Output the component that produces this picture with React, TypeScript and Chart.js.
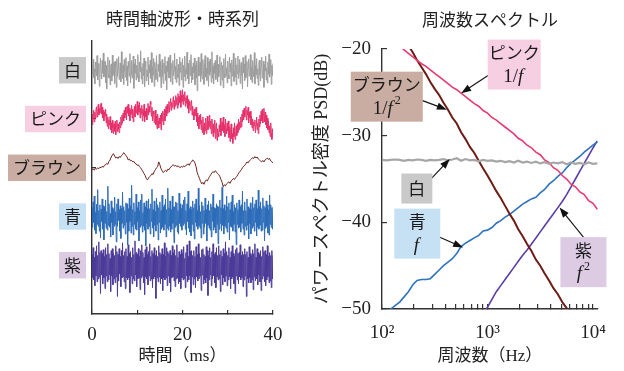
import React, { useEffect, useRef } from 'react';
import { Chart, registerables } from 'chart.js';

Chart.register(...registerables);

// ---------- Left panel: time-domain waveforms ----------
const DURATION_MS = 40;
const TIME_TICKS = [0, 10, 20, 30, 40];
const TIME_TICK_LABELS = ['0', '', '20', '', '40'];
const TRACE_NAMES = ['白', 'ピンク', 'ブラウン', '青', '紫'];
const TRACE_OFFSETS = [4, 3, 2, 1, 0];
const TRACE_COLORS = ['#9d9d9d', '#e6306b', '#70231d', '#2c6cb8', '#4c3b98'];
const BOX_COLORS = ['#c9c9c9', '#f7cfe2', '#c9ada2', '#c7e1f4', '#dccbe3'];

// amplitudes in hundredths of a trace spacing, evenly spaced over 0–40 ms
const WHITE_WAVE = [
  12, -8, 22, -15, 3, -28, 17, 9, -12, 30, -20, -4, 14, -33, 8, 25, -10, -18, 20, -6,
  35, -14, -2, 18, -25, 10, -38, 6, 27, -9, -16, 21, -30, 4, 13, -22, 31, -11, -3, 16,
  -27, 19, 7, -35, 24, -13, 2, 28, -19, -7, 15, -24, 38, -5, -17, 11, -29, 22, -1, -14,
  26, -21, 9, -32, 18, 5, -12, 34, -26, -8, 20, -16, 3, 29, -37, 13, -6, 23, -20, 10,
  -15, 32, -9, -24, 17, -3, 40, -18, 6, -28, 14, -11, 25, -34, 8, 19, -22, 1, -13, 27,
  -30, 11, -5, 21, -17, 36, -25, 7, -10, 24, -33, 16, 2, -19, 30, -8, -23, 12, -2, 33,
  -14, 18, -36, 4, 22, -12, -27, 15, -6, 28, -21, 9, -40, 19, -3, 26, -16, -9, 31, -24,
  5, 14, -29, 20, -11, -1, 35, -18, 8, -25, 23, -7, -15, 12, -31, 27, -4, 17, -20, 6,
  24, -35, 10, -13, 29, -22, 3, -8, 37, -17, 14, -28, -2, 21, -11, 32, -26, 7, -19, 15,
  -5, 25, -30, 11, -16, 19, -42, 8, 27, -12, -4, 16, -23, 34, -9, -18, 22, -1, -29, 13,
  30, -14, 4, -21, 26, -7, -33, 18, -10, 23, -3, -25, 38, -16, 9, -28, 15, -6, 20, -19,
  2, 31, -24, 12, -13, -2, 28, -31, 7, 17, -20, 10, -36, 24, -8, -15, 33, -11, 5, -26,
  19, -9, -18, 27, -4, 14, -32, 21, -12, 6, 35, -23, -1, -14, 25, -30, 11, -7, 29, -17,
  -3, 22, -27, 9, 16, -11, -38, 26, -5, 13, -21, 30, -15, -8, 18, -34, 4, 23, -12, -6,
  32, -19, 7, -25, 20, -2, -13, 36, -28, 10, -9, 24, -17, 3, -31, 15, 21, -10, -22, 8,
  27, -16, -6, 19, -35, 12, -1, 29, -20, 5, -26, 17, -8, 33, -14, -4, 22, -29, 10, -11,
  14,
];
const PINK_WAVE = [
  10, -12, 5, 18, -6, 14, 2, 20, 25, 4, 16, 30, 8, 22, 12, 28,
  32, 10, 24, 2, 18, -4, 14, 6, 20, -8, 10, -15, 4, -20, -2, -12,
  5, -22, -8, -28, -3, -18, -30, -10, -25, -5, -32, -14, -2, -26, -10, -20,
  -28, -6, -18, 4, -12, 8, -8, 12, -4, 18, 2, 24, 8, -2, 26, 12,
  30, 6, 22, -4, 18, 10, 28, 2, 20, -6, 14, 26, 4, 30, 12, 22,
  36, 8, 28, 14, 34, 2, 22, 10, 28, -4, 20, 6, 30, -6, 16, 4,
  22, -2, 18, 32, 8, 26, 14, 36, 30, 6, 24, -4, 16, 10, -8, 14,
  18, -12, 6, -20, 10, -4, -18, 2, -10, 8, -22, 12, -4, 16, -12, 10,
  20, -4, 14, 26, 6, 30, 12, 24, 36, 14, 28, 42, 18, 34, 24, 40,
  46, 20, 38, 26, 48, 30, 44, 22, 52, 28, 46, 34, 58, 24, 48, 36,
  60, 30, 50, 38, 56, 26, 44, 32, 48, 22, 40, 12, 36, 28, 18, 30,
  38, 8, 26, 14, -2, 20, 6, 16, 24, -6, 12, -14, 4, -20, 8, -10,
  10, -22, -2, -28, 4, -16, -32, -8, -24, 2, -30, -10, 6, -22, -4, -16,
  8, -20, -4, -30, 0, -14, -36, -10, -28, -2, -40, -16, -8, -44, -20, -30,
  -36, -12, -26, 2, -34, -18, -6, -24, 4, -28, -12, -36, 0, -20, -30, -8,
  -24, -4, -38, -16, -46, -22, -10, -40, -30, -50, -18, -36, -8, -42, -26, -14,
  -34, -10, -28, 0, -22, -6, -18, 4, -16, 10, -6, 18, -2, 22, 4, 14,
  26, -2, 18, 8, 24, -8, 14, 2, 16, -12, 6, -18, 0, -24, -6, -14,
  -2, -28, -12, 4, -22, -8, -30, 0, -16, 8, -10, 16, -4, 20, -8, 12,
  22, -6, 14, -12, 8, -18, 2, -22, -4, -28, -14, -36, -8, -30, -42, -20,
  -38,
];
const BROWN_WAVE = [
  -4, -2, -5, -1, -3, 0, -2, 1, 0, 3, 1, 5, 6, 9, 7, 13, 16, 22, 26, 29,
  24, 20, 22, 19, 23, 21, 25, 27, 31, 28, 25, 22, 16, 18, 14, 15, 12, 13, 9, 8,
  5, 6, 2, 0, -4, -8, -12, -16, -22, -25, -21, -18, -16, -12, -14, -8, -4, 0, 2, 12,
  6, -2, -6, -10, -7, -5, -8, -3, -4, 0, 2, 5, 6, 3, 5, 2, 4, 2, 0, 3,
  1, 4, 2, 5, 6, 8, 5, 10, 12, 16, 14, 10, 2, -10, -16, -22, -28, -33, -30, -34,
  -28, -25, -27, -22, -18, -14, -10, -8, -10, -6, -9, -12, -14, -18, -24, -30, -39, -35, -37, -33,
  -31, -29, -32, -27, -25, -22, -24, -20, -18, -14, -10, -7, -4, 0, 3, 5, 8, 12, 10, 14,
  16, 18, 21, 19, 23, 20, 22, 18, 16, 14, 12, 15, 12, 16, 18, 20, 17, 19, 14, 12,
  10,
];
const BLUE_WAVE = [
  18, -22, 30, -12, 42, -28, 8, -35, 25, -16, 55, -20, 12, -30, 24, -44, 15, -10, 36, -26,
  22, -48, 20, -14, 34, -24, 10, -28, 62, -18, 26, -22, 6, -42, 32, -12, 18, -38, 14, -20,
  40, -16, 10, -52, 26, -20, 36, -8, 14, -30, 22, -45, 16, -14, 50, -24, 20, -18, 12, -36,
  28, -12, 26, -58, 16, -30, 38, -10, 22, -34, 64, -20, 14, -38, 28, -16, 10, -26, 46, -28,
  18, -10, 30, -50, 12, -22, 34, -18, 46, -32, 8, -20, 28, -28, 20, -60, 32, -14, 16, -26,
  36, -20, 16, -36, 26, -10, 56, -24, 14, -42, 32, -18, 10, -30, 38, -16, 24, -48, 18, -12,
  30, -34, 12, -26, 44, -22, 20, -28, 24, -16, 36, -42, 14, -24, 58, -28, 18, -20, 32, -32,
  14, -26, 42, -14, 20, -54, 20, -22, 30, -18, 28, -32, 12, -36, 48, -14, 26, -20, 16, -28,
  24, -18, 34, -14, 40, -26, 12, -38, 26, -10, 52, -24, 16, -32, 20, -40, 14, -16, 32, -30,
  18, -46, 26, -12, 36, -20, 12, -26, 58, -20, 22, -24, 10, -44, 30, -14, 22, -36, 12, -22,
  38, -14, 14, -50, 24, -18, 32, -24, 12, -28, 26, -42, 20, -10, 46, -28, 18, -22, 16, -34,
  26, -16, 22, -56, 20, -26, 34, -14, 18, -30, 60, -18, 16, -36, 24, -20, 12, -24, 42, -32,
  20, -12, 28, -48, 14, -20, 30, -22, 44, -30, 10, -16, 24, -32, 18, -58, 28, -16, 14, -24,
  34, -22, 20, -32, 24, -14, 52, -26, 12, -38, 30, -20, 12, -28, 36, -18, 20, -46, 16, -14,
  28, -36, 14, -24, 40, -20, 18, -30, 26, -12, 34, -40, 16, -22, 54, -26, 20, -18, 30, -30,
  16, -28, 38, -12, 22, -50, 18, -24, 32, -20, 24, -34, 14, -38, 44, -16, 24, -22, 18, -26,
  20,
];
const PURPLE_WAVE = [
  22, -26, 36, -30, 16, -42, 28, -22, 40, -34, 20, -28, 48, -24, 26, -58, 30, -20, 24, -38,
  32, -26, 18, -48, 36, -22, 22, -34, 44, -30, 24, -20, 14, -54, 30, -22, 34, -40, 24, -28,
  20, -36, 40, -24, 28, -64, 22, -32, 34, -18, 18, -44, 30, -26, 46, -24, 20, -34, 28, -48,
  34, -26, 18, -30, 42, -26, 24, -56, 28, -22, 16, -38, 36, -28, 22, -32, 50, -20, 26, -44,
  22, -28, 34, -26, 18, -50, 30, -26, 42, -22, 26, -36, 16, -60, 32, -24, 38, -28, 22, -40,
  28, -22, 44, -32, 18, -28, 30, -46, 24, -28, 36, -24, 20, -68, 30, -26, 18, -34, 40, -24,
  26, -38, 22, -28, 34, -52, 22, -26, 46, -30, 18, -26, 36, -42, 28, -22, 24, -36, 30, -54,
  20, -26, 40, -24, 26, -32, 32, -44, 20, -28, 42, -26, 16, -38, 28, -34, 22, -48, 32, -26,
  24, -30, 38, -28, 14, -46, 26, -22, 42, -34, 18, -30, 50, -22, 28, -56, 30, -24, 20, -40,
  30, -28, 18, -46, 38, -24, 22, -32, 44, -28, 24, -22, 16, -52, 32, -20, 34, -38, 22, -30,
  18, -36, 38, -26, 30, -62, 20, -30, 36, -20, 16, -42, 28, -28, 44, -22, 22, -36, 26, -46,
  36, -24, 20, -30, 40, -28, 22, -54, 30, -20, 18, -40, 34, -26, 24, -34, 48, -22, 28, -42,
  20, -30, 36, -24, 16, -48, 28, -28, 40, -24, 24, -38, 18, -58, 32, -22, 36, -30, 24, -38,
  26, -24, 42, -30, 20, -26, 28, -44, 22, -30, 34, -22, 22, -64, 28, -28, 16, -36, 38, -26,
  24, -36, 20, -30, 32, -50, 24, -24, 44, -32, 16, -28, 34, -40, 26, -20, 22, -34, 30, -52,
  18, -28, 38, -22, 28, -34, 30, -42, 22, -30, 40, -24, 18, -36, 26, -32, 20, -46, 30, -28,
  20,
];
const WAVES = [WHITE_WAVE, PINK_WAVE, BROWN_WAVE, BLUE_WAVE, PURPLE_WAVE];

// ---------- Right panel: power spectral density ----------
const FREQS_HZ = [
  100, 110, 121, 133, 147, 162, 178, 196, 215, 237, 261, 287, 316, 348, 383, 422, 464, 511, 562, 619,
  681, 750, 825, 909, 1000, 1101, 1212, 1334, 1468, 1616, 1778, 1957, 2154, 2371, 2610, 2873, 3162, 3481, 3831, 4217,
  4642, 5109, 5623, 6190, 6813, 7499, 8254, 9085, 10000, 11000,
];
const FREQ_TICKS = [100, 200, 300, 400, 500, 600, 700, 800, 900, 1000, 2000, 3000, 4000, 5000, 6000, 7000, 8000, 9000, 10000];
const FREQ_DECADE_LABELS: Record<number, string> = { 100: '10²', 1000: '10³', 10000: '10⁴' };
const PSD_TICKS = [-50, -40, -30, -20];

const WHITE_PSD = [
  -32.8, -32.85, -32.8, -32.75, -32.8, -32.9, -32.8, -32.85, -32.75, -32.8, -32.9, -32.8, -32.85, -32.8, -32.7, -32.85, -32.75, -32.6, -32.9, -32.7,
  -32.85, -32.8, -32.95, -32.8, -32.9, -32.85, -33.0, -32.9, -33.05, -32.95, -33.1, -32.9, -33.1, -33.0, -33.15, -33.0, -33.2, -33.05, -33.25, -33.1,
  -33.2, -33.05, -33.3, -33.1, -33.25, -33.15, -33.3, -33.1, -33.25, -33.2,
];
const PINK_PSD = [
  -18.1, -18.5, -18.9, -19.3, -19.7, -20.1, -20.5, -20.9, -21.3, -21.7, -22.0, -22.4, -22.8, -23.2, -23.6, -24.0, -24.4, -24.7, -25.1, -25.5,
  -25.9, -26.3, -26.6, -27.1, -27.4, -27.9, -28.2, -28.6, -29.0, -29.4, -29.8, -30.3, -30.6, -31.1, -31.4, -31.9, -32.2, -32.8, -33.1, -33.7,
  -34.0, -34.6, -35.0, -35.6, -35.9, -36.5, -36.8, -37.5, -37.8, -38.5,
];
const BROWN_PSD = [
  -14.7, -15.5, -16.3, -17.1, -18.0, -18.8, -19.6, -20.4, -21.3, -22.1, -22.9, -23.8, -24.6, -25.3, -26.2, -27.0, -27.9, -28.6, -29.6, -30.4,
  -31.3, -32.0, -32.9, -33.8, -34.6, -35.5, -36.4, -37.2, -38.1, -39.0, -39.8, -40.8, -41.6, -42.5, -43.3, -44.3, -45.0, -45.9, -46.7, -47.6,
  -48.3, -49.2, -49.9, -50.8, -51.6, -52.5, -53.3, -54.2, -55.0, -55.8,
];
const BLUE_PSD = [
  -51.0, -50.5, -50.0, -49.6, -49.2, -48.6, -48.0, -47.2, -46.7, -46.6, -46.6, -46.5, -46.0, -45.5, -45.0, -44.6, -44.2, -43.6, -42.8, -42.4,
  -42.1, -41.8, -41.5, -41.0, -40.9, -40.6, -40.1, -39.8, -39.4, -39.1, -38.7, -38.3, -37.9, -37.6, -37.3, -37.1, -36.6, -36.2, -35.6, -35.2,
  -34.7, -34.3, -33.7, -33.2, -32.8, -32.4, -31.9, -31.5, -31.1, -30.7,
];
const PURPLE_PSD = [
  null, null, null, null, null, null, null, null, null, null, null, null, null, null, null, null, null, null, null, null,
  null, null, -51.5, -50.6, -49.8, -48.9, -48.0, -47.3, -46.6, -45.9, -45.2, -44.5, -43.8, -43.2, -42.5, -41.8, -41.1, -40.4, -39.7, -39.0,
  -38.3, -37.6, -36.8, -35.9, -35.0, -34.1, -33.2, -32.3, -31.4, -30.6,
];
const PSD_SERIES = [WHITE_PSD, PINK_PSD, BROWN_PSD, BLUE_PSD, PURPLE_PSD];
const PSD_COLORS = ['#a6a6a6', '#e83a70', '#6e1c16', '#2f72c2', '#5b3ea8'];
const PSD_WIDTHS = [2.2, 1.6, 2, 1.6, 1.6];

type Part = { t: string; italic?: boolean; sup?: boolean };
const PSD_NOTES: {
  name: string; formula: Part[]; fill: string;
  at: [number, number]; size: [number, number];
  from: [number, number]; to: [number, number];
}[] = [
  { name: 'ピンク', formula: [{ t: '1/' }, { t: 'f', italic: true }], fill: '#f7cfe2', at: [1791, -21.8], size: [53, 50], from: [1012, -23.06], to: [563, -25.1] },
  { name: 'ブラウン', formula: [{ t: '1/' }, { t: 'f', italic: true }, { t: '2', sup: true }], fill: '#c9ada2', at: [111, -25.5], size: [72, 50], from: [235, -25.9], to: [412, -27.0] },
  { name: '白', formula: [], fill: '#c9c9c9', at: [214, -36.1], size: [31, 30], from: [296, -34.9], to: [439, -32.7] },
  { name: '青', formula: [{ t: 'f', italic: true }], fill: '#c7e1f4', at: [216, -41.3], size: [46, 50], from: [349, -41.7], to: [587, -42.9] },
  { name: '紫', formula: [{ t: 'f', italic: true }, { t: '2', sup: true }], fill: '#dccbe3', at: [8110, -44.6], size: [46, 50], from: [8110, -41.7], to: [4820, -38.3] },
];

const CJK = '"Noto Sans CJK JP", sans-serif';
const SERIF = '"Liberation Serif", "Noto Sans CJK JP", serif';
const INK = '#222';
const AXIS = '#333';

function drawFormula(ctx: CanvasRenderingContext2D, cx: number, cy: number, parts: Part[], size: number) {
  const fontOf = (p: Part) => `${p.italic ? 'italic ' : ''}${p.sup ? Math.round(size * 0.62) : size}px "Liberation Serif", serif`;
  const widths = parts.map((p) => { ctx.font = fontOf(p); return ctx.measureText(p.t).width + (p.italic ? 2 : 0); });
  const total = widths.reduce((a, b) => a + b, 0);
  let x = cx - total / 2;
  parts.forEach((p, i) => {
    ctx.font = fontOf(p);
    ctx.textAlign = 'left';
    ctx.textBaseline = 'middle';
    ctx.fillText(p.t, x, cy - (p.sup ? size * 0.4 : 0));
    x += widths[i];
  });
}

const notesPlugin = {
  id: 'psdNotes',
  afterDraw(chart: any) {
    const { ctx, scales } = chart;
    const xs = scales.x, ys = scales.y;
    ctx.save();
    for (const n of PSD_NOTES) {
      const fx = xs.getPixelForValue(n.from[0]), fy = ys.getPixelForValue(n.from[1]);
      const tx = xs.getPixelForValue(n.to[0]), ty = ys.getPixelForValue(n.to[1]);
      const ang = Math.atan2(ty - fy, tx - fx);
      const head = 10, half = 3.6;
      ctx.strokeStyle = '#111';
      ctx.fillStyle = '#111';
      ctx.lineWidth = 1.1;
      ctx.beginPath();
      ctx.moveTo(fx, fy);
      ctx.lineTo(tx - Math.cos(ang) * head * 0.8, ty - Math.sin(ang) * head * 0.8);
      ctx.stroke();
      ctx.beginPath();
      ctx.moveTo(tx, ty);
      ctx.lineTo(tx - Math.cos(ang) * head - Math.sin(ang) * half, ty - Math.sin(ang) * head + Math.cos(ang) * half);
      ctx.lineTo(tx - Math.cos(ang) * head + Math.sin(ang) * half, ty - Math.sin(ang) * head - Math.cos(ang) * half);
      ctx.closePath();
      ctx.fill();

      const cx = xs.getPixelForValue(n.at[0]), cy = ys.getPixelForValue(n.at[1]);
      const [w, h] = n.size;
      const top = cy - h / 2;
      ctx.fillStyle = n.fill;
      ctx.fillRect(cx - w / 2, top, w, h);
      ctx.fillStyle = '#1a1a1a';
      ctx.font = `17px ${CJK}`;
      ctx.textAlign = 'center';
      ctx.textBaseline = 'middle';
      if (n.formula.length) {
        ctx.fillText(n.name, cx, top + 13);
        drawFormula(ctx, cx, top + 37, n.formula, 19);
      } else {
        ctx.fillText(n.name, cx, cy);
      }
    }
    ctx.restore();
  },
};

export default function App() {
  const leftRef = useRef<HTMLCanvasElement>(null);
  const rightRef = useRef<HTMLCanvasElement>(null);

  useEffect(() => {
    const axisGrid = (len: number) => ({
      display: true, drawOnChartArea: false, drawTicks: true, tickLength: len, color: AXIS, lineWidth: 1.2,
    });
    const axisBorder = { display: true, color: AXIS, width: 1.4 };

    const left = new Chart(leftRef.current!, {
      type: 'line',
      data: {
        datasets: WAVES.map((wave, i) => ({
          label: TRACE_NAMES[i],
          data: wave.map((v, j) => ({ x: (j * DURATION_MS) / (wave.length - 1), y: TRACE_OFFSETS[i] + v / 100 })),
          borderColor: TRACE_COLORS[i],
          borderWidth: 1,
          pointRadius: 0,
          tension: 0,
        })),
      },
      options: {
        animation: false,
        responsive: true,
        maintainAspectRatio: false,
        layout: { padding: { left: 0, right: 27, top: 0, bottom: 0 } },
        plugins: {
          legend: { display: false },
          tooltip: { enabled: false },
          title: {
            display: true, text: '時間軸波形・時系列', fullSize: false, color: INK,
            font: { family: CJK, size: 17, weight: 'normal' }, padding: { top: 8.8, bottom: 11.8 },
          },
        },
        scales: {
          x: {
            type: 'linear', min: 0, max: 40,
            afterBuildTicks: (s: any) => { s.ticks = TIME_TICKS.map((v) => ({ value: v })); },
            afterFit: (s: any) => { s.height = 57; },
            ticks: {
              autoSkip: false, maxRotation: 0, padding: 13.6, color: INK,
              font: { family: SERIF, size: 19 },
              callback: (v: any) => TIME_TICK_LABELS[TIME_TICKS.indexOf(Number(v))] ?? '',
            },
            grid: axisGrid(-4),
            border: axisBorder,
            title: {
              display: true, text: '時間（ms）', color: INK,
              font: { family: SERIF, size: 17 }, padding: { top: 0, bottom: 3.8 },
            },
          },
          y: {
            type: 'linear', min: -1, max: 4.6,
            afterBuildTicks: (s: any) => { s.ticks = TRACE_OFFSETS.map((v) => ({ value: v })).reverse(); },
            afterFit: (s: any) => { s.width = 92; },
            ticks: {
              autoSkip: false, padding: 15, color: '#1a1a1a',
              font: { family: CJK, size: 17 },
              showLabelBackdrop: true,
              backdropColor: (ctx: any) => BOX_COLORS[TRACE_OFFSETS.indexOf(ctx.tick?.value)] ?? 'transparent',
              backdropPadding: { left: 5, right: 5, top: 3, bottom: 3 },
              callback: (v: any) => TRACE_NAMES[TRACE_OFFSETS.indexOf(Number(v))] ?? '',
            },
            grid: axisGrid(-4),
            border: axisBorder,
          },
        },
      },
    } as any);

    const right = new Chart(rightRef.current!, {
      type: 'line',
      data: {
        datasets: PSD_SERIES.map((series, i) => ({
          label: TRACE_NAMES[i],
          data: series.map((v, j) => ({ x: FREQS_HZ[j], y: v })),
          borderColor: PSD_COLORS[i],
          borderWidth: PSD_WIDTHS[i],
          pointRadius: 0,
          tension: 0,
          spanGaps: false,
        })),
      },
      options: {
        animation: false,
        responsive: true,
        maintainAspectRatio: false,
        layout: { padding: { left: 0, right: 16, top: 0, bottom: 0 } },
        plugins: {
          legend: { display: false },
          tooltip: { enabled: false },
          title: {
            display: true, text: '周波数スペクトル', fullSize: false, color: INK,
            font: { family: CJK, size: 17, weight: 'normal' }, padding: { top: 9.8, bottom: 18.8 },
          },
        },
        scales: {
          x: {
            type: 'logarithmic', min: 100, max: 11100,
            afterBuildTicks: (s: any) => { s.ticks = FREQ_TICKS.map((v) => ({ value: v })); },
            afterFit: (s: any) => { s.height = 62; },
            ticks: {
              autoSkip: false, maxRotation: 0, padding: 17.6, color: INK,
              font: { family: SERIF, size: 19 },
              callback: (v: any) => FREQ_DECADE_LABELS[Number(v)] ?? '',
            },
            grid: axisGrid(-5),
            border: axisBorder,
            title: {
              display: true, text: '周波数（Hz）', color: INK,
              font: { family: SERIF, size: 17 }, padding: { top: 0, bottom: 3.8 },
            },
          },
          y: {
            type: 'linear', min: -50, max: -20,
            afterBuildTicks: (s: any) => { s.ticks = PSD_TICKS.map((v) => ({ value: v })); },
            afterFit: (s: any) => { s.width = 82; },
            ticks: {
              autoSkip: false, padding: 16, color: INK,
              font: { family: SERIF, size: 19 },
              callback: (v: any) => (Number(v) < 0 ? '−' + Math.abs(Number(v)) : String(v)),
            },
            grid: axisGrid(-5),
            border: axisBorder,
            title: {
              display: true, text: 'パワースペクトル密度 PSD(dB)', color: INK,
              font: { family: SERIF, size: 18 }, padding: { top: 11, bottom: 0 },
            },
          },
        },
      },
      plugins: [notesPlugin],
    } as any);

    return () => {
      left.destroy();
      right.destroy();
    };
  }, []);

  return (
    <div style={{ position: 'absolute', left: 0, top: 0, width: 624, height: 371, background: '#fff' }}>
      <div style={{ position: 'absolute', left: 0, top: 0, width: 300, height: 371 }}>
        <canvas ref={leftRef} />
      </div>
      <div style={{ position: 'absolute', left: 300, top: 0, width: 324, height: 371 }}>
        <canvas ref={rightRef} />
      </div>
    </div>
  );
}
